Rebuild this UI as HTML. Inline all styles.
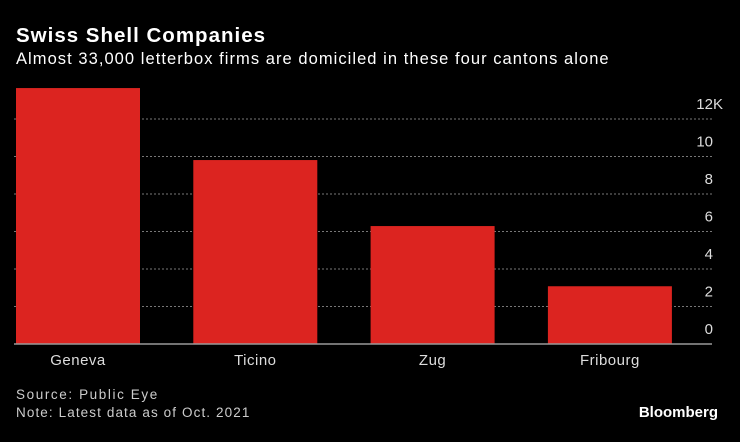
<!DOCTYPE html>
<html><head><meta charset="utf-8"><style>
body{margin:0;background:#000;width:740px;height:437px;overflow:hidden;font-family:"Liberation Sans",sans-serif;}
</style></head><body>
<svg width="740" height="437" xmlns="http://www.w3.org/2000/svg">
<rect width="740" height="437" fill="#000"/>
<text x="16" y="42" fill="#fff" font-size="20.5" font-weight="bold" letter-spacing="1" font-family="Liberation Sans, sans-serif">Swiss Shell Companies</text>
<text x="16" y="64" fill="#fff" font-size="16.5" letter-spacing="1.05" font-family="Liberation Sans, sans-serif">Almost 33,000 letterbox firms are domiciled in these four cantons alone</text>
<g id="grid"></g>
<g id="bars"></g>
<line x1="14" x2="712" y1="344" y2="344" stroke="#999" stroke-width="1.5"/>
<g id="labels"></g>
<text x="16" y="399" fill="#ccc" font-size="13.5" letter-spacing="1.6" font-family="Liberation Sans, sans-serif">Source: Public Eye</text>
<text x="16" y="417" fill="#ccc" font-size="13.5" letter-spacing="1.1" font-family="Liberation Sans, sans-serif">Note: Latest data as of Oct. 2021</text>
<text x="718" y="417" fill="#fff" font-size="15" font-weight="bold" text-anchor="end" font-family="Liberation Sans, sans-serif">Bloomberg</text>
</svg>
<script>
const categories = ["Geneva","Ticino","Zug","Fribourg"];
const values = [13.65, 9.81, 6.29, 3.08];
const ticks = [0,2,4,6,8,10,12];
const tickLabels = ["0","2","4","6","8","10","12K"];
const NS="http://www.w3.org/2000/svg";
const y = v => 344 - v*18.75;
const xCenter = i => 78 + i*177.3;
const barW = 124;
const grid=document.getElementById('grid'), bars=document.getElementById('bars'), labels=document.getElementById('labels');
function mk(tag,attrs,parent){const e=document.createElementNS(NS,tag);for(const k in attrs)e.setAttribute(k,attrs[k]);parent.appendChild(e);return e;}
ticks.forEach((t,i)=>{
  if(t>0){
    const l=mk('line',{x1:14,x2:712,y1:y(t),y2:y(t),stroke:'#777','stroke-width':1,'stroke-dasharray':'2,2'},grid);
    
    
  }
  const lab=tickLabels[i];
  const tx=mk('text',{x:lab.endsWith('K')?723:713,y:y(t)-10,fill:'#ddd','font-size':15,'text-anchor':'end','font-family':'Liberation Sans, sans-serif'},grid);
  tx.textContent=lab;
  
  
});
categories.forEach((c,i)=>{
  const r=mk('rect',{x:xCenter(i)-barW/2,y:y(values[i]),width:barW,height:344-y(values[i]),fill:'#dc2420'},bars);
  
  
  const t=mk('text',{x:xCenter(i),y:365,fill:'#ddd','font-size':15,'letter-spacing':0.5,'text-anchor':'middle','font-family':'Liberation Sans, sans-serif'},labels);
  t.textContent=c;
  
  
});
</script>
</body></html>
